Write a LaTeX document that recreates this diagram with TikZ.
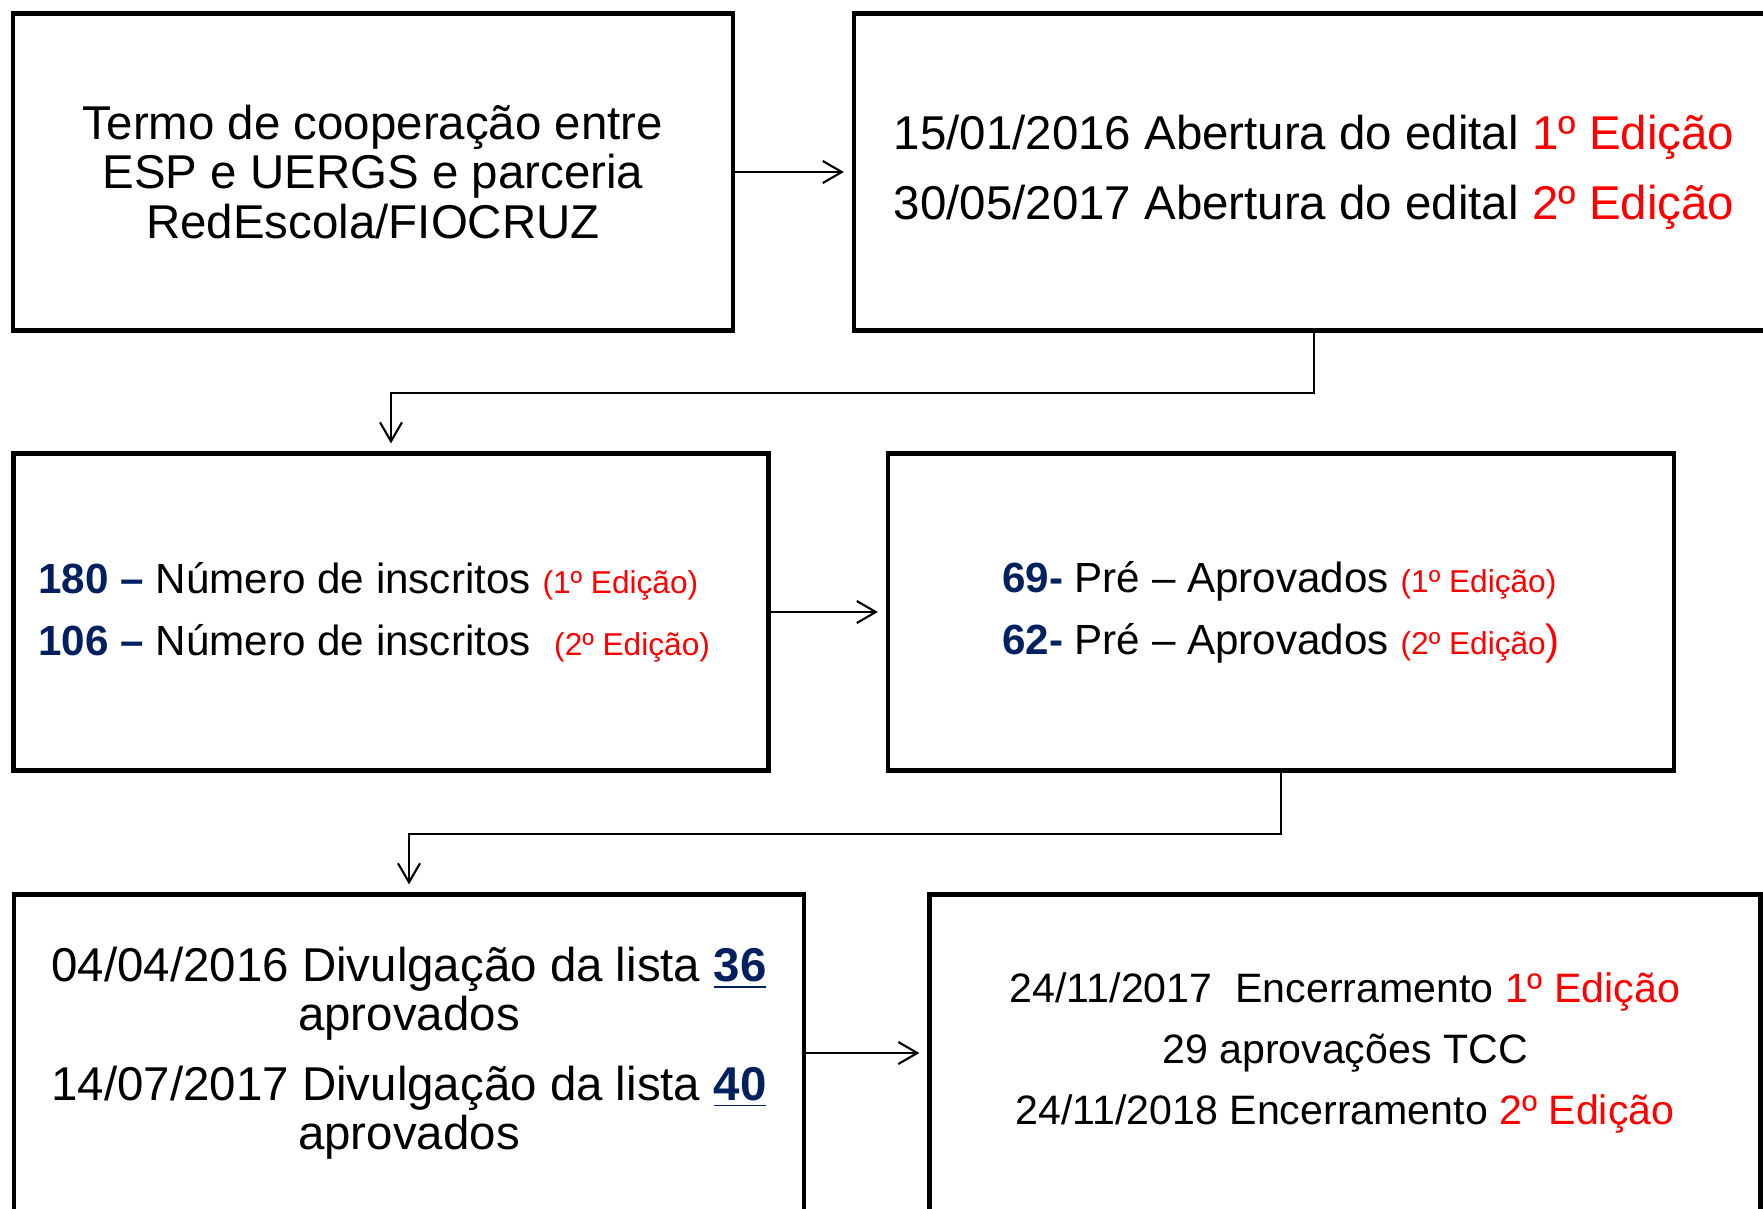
\documentclass[tikz,border=0pt]{standalone}
\usepackage{fontspec}
\setmainfont{Liberation Sans}
\usetikzlibrary{arrows.meta}
\definecolor{navy}{RGB}{0,32,96}
\definecolor{edred}{RGB}{255,0,0}

\begin{document}
\begin{tikzpicture}
\tikzstyle{every node}+=[inner sep=0pt]
\tikzstyle{box}=[draw=black, line width=1.2pt, minimum height=3.17cm, align=center]
\tikzstyle{link}=[black, line width=0.6pt, -{Straight Barb[length=1.9mm,width=2.2mm]}, shorten >=0.8mm]
\fill [white] (0,0) rectangle (17.63,-12.09);
\useasboundingbox (0,0) rectangle (17.63,-12.09);
\clip (0,0) rectangle (17.63,-12.09);
\node [box, minimum width=7.2cm, font=\fontsize{13.5}{14.2}\selectfont] (termo) at (3.73,-1.72) {Termo de cooperação entre\\ESP e UERGS e parceria\\RedEscola/FIOCRUZ};
\node [box, minimum width=9.2cm, align=left, font=\fontsize{13.5}{19.9}\selectfont] (edital) at (13.14,-1.72) {15/01/2016 Abertura do edital \textcolor{edred}{1º Edição}\\30/05/2017 Abertura do edital \textcolor{edred}{2º Edição}};
\node [box, minimum width=7.55cm, text width=7.05cm, align=flush left, font=\fontsize{12}{17.6}\selectfont] (inscritos) at (3.91,-6.12) {\textcolor{navy}{\bfseries 180 –} Número de inscritos \textcolor{edred}{\fontsize{9}{10}\selectfont(1º Edição)}\\\textcolor{navy}{\bfseries 106 –} Número de inscritos \ \textcolor{edred}{\fontsize{9}{10}\selectfont(2º Edição)}};
\node [box, minimum width=7.86cm, align=left, font=\fontsize{12}{17.6}\selectfont] (preaprov) at (12.81,-6.12) {\textcolor{navy}{\bfseries 69-} Pré – Aprovados \textcolor{edred}{\fontsize{9}{10}\selectfont(1º Edição)}\\\textcolor{navy}{\bfseries 62-} Pré – Aprovados \textcolor{edred}{{\fontsize{9}{10}\selectfont(2º Edição}{\fontsize{12}{14}\selectfont)}}};
\node [box, minimum width=7.9cm, font=\fontsize{13.5}{13.9}\selectfont] (divulga) at (4.09,-10.53) {04/04/2016 Divulgação da lista \textcolor{navy}{\bfseries\underline{36}}\\aprovados\\[0.21cm]14/07/2017 Divulgação da lista \textcolor{navy}{\bfseries\underline{40}}\\aprovados};
\node [box, minimum width=8.31cm, font=\fontsize{11.7}{17.3}\selectfont] (encerra) at (13.45,-10.53) {24/11/2017\ \ Encerramento \textcolor{edred}{1º Edição}\\29 aprovações TCC\\24/11/2018 Encerramento \textcolor{edred}{2º Edição}};
\draw [link] (termo) -- (edital);
\draw [link] (edital.south) -- ++(0,-0.6) -| (inscritos.north);
\draw [link] (inscritos) -- (preaprov);
\draw [link] (preaprov.south) -- ++(0,-0.61) -| (divulga.north);
\draw [link] (divulga) -- (encerra);
\end{tikzpicture}
\end{document}
